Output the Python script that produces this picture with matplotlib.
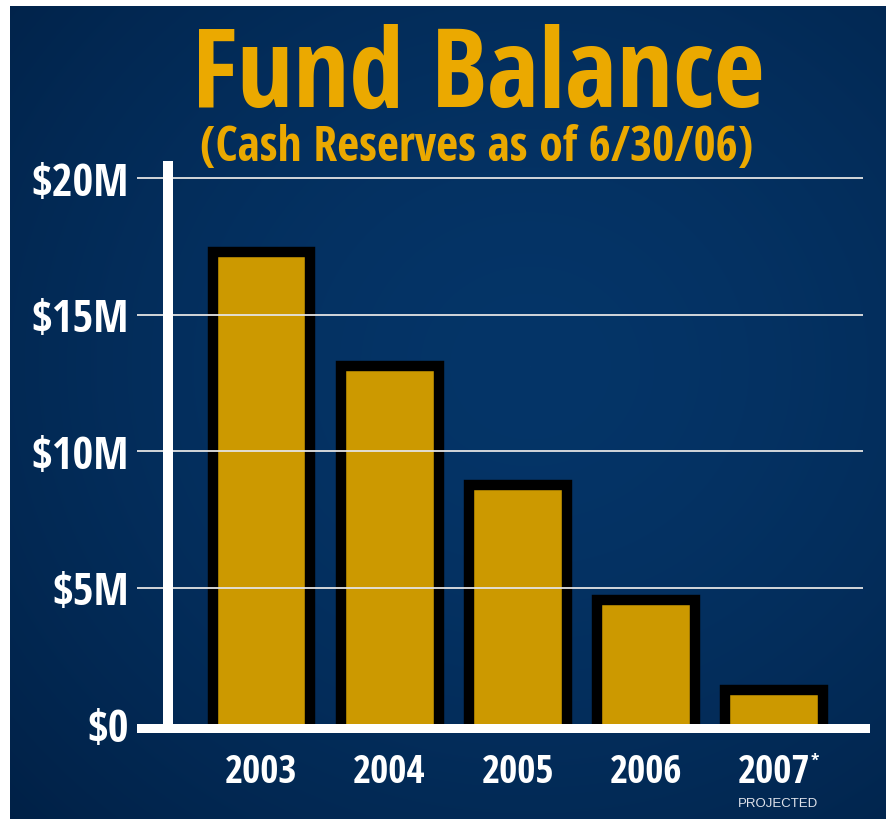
#!/usr/bin/env python3

import numpy as np
import matplotlib
matplotlib.use('Agg')
import matplotlib.pyplot as plt # type: ignore
from matplotlib import font_manager
from matplotlib.textpath import TextToPath

# chart data
years = ['2003', '2004', '2005', '2006', '2007']
balance = [17.3, 13.1, 8.75, 4.53, 1.24]    # $M
yticks = [0, 5, 10, 15, 20]
ylabels = ['$0', '$5M', '$10M', '$15M', '$20M']
title = 'Fund Balance'
subtitle = '(Cash Reserves as of 6/30/06)'
note = 'PROJECTED'

GOLD = '#eba900'
BAR = '#cc9900'
DPI = 100

ttp = TextToPath()
SANS = ('DejaVu Sans', 'DejaVu Sans Condensed', 'Liberation Sans', 'Liberation Sans Narrow',
		'Noto Sans', 'Noto Sans Display', 'Noto Sans Condensed', 'Roboto', 'Roboto Condensed',
		'Open Sans', 'Open Sans Condensed', 'Lato', 'Inter')

def as_weight(w):
	if isinstance(w, int):
		return w
	return font_manager.weight_dict.get(w, 400)

def narrowest_bold(sample, min_weight=700):
	"""
	Pick the installed bold sans face with the smallest width / cap height ratio
	"""
	best, best_r = None, None
	for f in font_manager.fontManager.ttflist:
		if f.name not in SANS or f.style != 'normal' or as_weight(f.weight) < min_weight:
			continue
		fp = font_manager.FontProperties(fname=f.fname, size=100)
		try:
			w = ttp.get_text_width_height_descent(sample, fp, ismath=False)[0]
			h = ttp.get_text_width_height_descent('H', fp, ismath=False)[1]
		except Exception:
			continue
		if h <= 0:
			continue
		r = w / h
		if best_r is None or r < best_r:
			best, best_r = f.fname, r
	if best is None:
		return font_manager.FontProperties(family='DejaVu Sans', weight='bold', stretch='condensed')
	return font_manager.FontProperties(fname=best)

def sized(fp, text, width_px, cap_px):
	"""
	Font size so the text fits the given width and cap height (smaller of the two)
	"""
	p = fp.copy()
	p.set_size(100)
	w = ttp.get_text_width_height_descent(text, p, ismath=False)[0] * DPI / 72 / 100
	h = ttp.get_text_width_height_descent('H', p, ismath=False)[1] * DPI / 72 / 100
	p.set_size(min(width_px / w, cap_px / h))
	return p

W, H = 886, 820
fig = plt.figure(figsize=(W / DPI, H / DPI), dpi=DPI, facecolor='white')

# background panel with a soft gradient
bg = fig.add_axes([10 / W, 0, 876 / W, 813 / H], zorder=-10)
yy, xx = np.mgrid[0:813, 0:876]
d = np.hypot(xx - 520, (yy - 360) * 1.1) / 780.0
t = np.clip(d, 0, 1) ** 1.6
light = np.array([5, 53, 104]) / 255.0
dark = np.array([0, 30, 66]) / 255.0
img = light[None, None, :] * (1 - t[..., None]) + dark[None, None, :] * t[..., None]
bg.imshow(img, aspect='auto', interpolation='bilinear')
bg.axis('off')

# main plot area (pixel layout of the original)
zero_px, top_px, bottom_px = 725, 162, 734
px_per_m = 27.3
ymin = -(bottom_px - zero_px) / px_per_m
ymax = (zero_px - top_px) / px_per_m
ax = fig.add_axes([137 / W, (H - bottom_px) / H, (870 - 137) / W, (bottom_px - top_px) / H])
ax.set_facecolor('none')
for s in ax.spines.values():
	s.set_visible(False)

x = np.arange(len(years))
step = 128.1
ax.set_xlim(-(261.5 - 137) / step, (870 - 261.5) / step)
ax.set_ylim(ymin, ymax)

heights = [v - ymin for v in balance]
ax.bar(x, heights, bottom=ymin, width=0.765, color=BAR, edgecolor='black',
	   linewidth=7.5, joinstyle='miter', zorder=2)

ax.hlines(yticks[1:], ax.get_xlim()[0], (863 - 261.5) / step, color='#e4e4e4', lw=1.3, zorder=3)
ax.axhspan(ymin, 0, color='white', lw=0, zorder=4)
ax.axvline(-(261.5 - 167.5) / step, color='white', lw=7.2, solid_capstyle='butt', zorder=4)

face = narrowest_bold(title)
lab_font = sized(face, '$20M', 98, 32)
year_font = sized(face, '2003', 74, 28)

ax.set_yticks(yticks, ylabels)
ax.set_xticks(x, years)
for lbl in ax.get_yticklabels():
	lbl.set_fontproperties(lab_font)
for lbl in ax.get_xticklabels():
	lbl.set_fontproperties(year_font)
ax.tick_params(axis='y', length=0, pad=5.8, colors='white')
ax.tick_params(axis='x', length=0, pad=13.5, colors='white')

last = ax.get_xticklabels()[-1]
star_font = face.copy()
star_font.set_size(13)
ax.annotate('*', xy=(1, 1), xycoords=last, xytext=(0.5, 0), textcoords='offset points',
			ha='left', va='top', color='white', fontproperties=star_font)
ax.annotate(note, xy=(0, 0), xycoords=last, xytext=(0, -4), textcoords='offset points',
			ha='left', va='top', color='#dfe2ea', fontsize=9.5,
			family=['Liberation Sans', 'DejaVu Sans'])

# titles
fig.text(478 / W, 1 - 107 / H, title, ha='center', va='baseline', color=GOLD,
		 fontproperties=sized(face, title, 572, 84))
fig.text(477 / W, 1 - 161 / H, subtitle, ha='center', va='baseline', color=GOLD,
		 fontproperties=sized(face, subtitle, 554, 34))

fig.savefig('out.png', dpi=DPI, facecolor='white')
